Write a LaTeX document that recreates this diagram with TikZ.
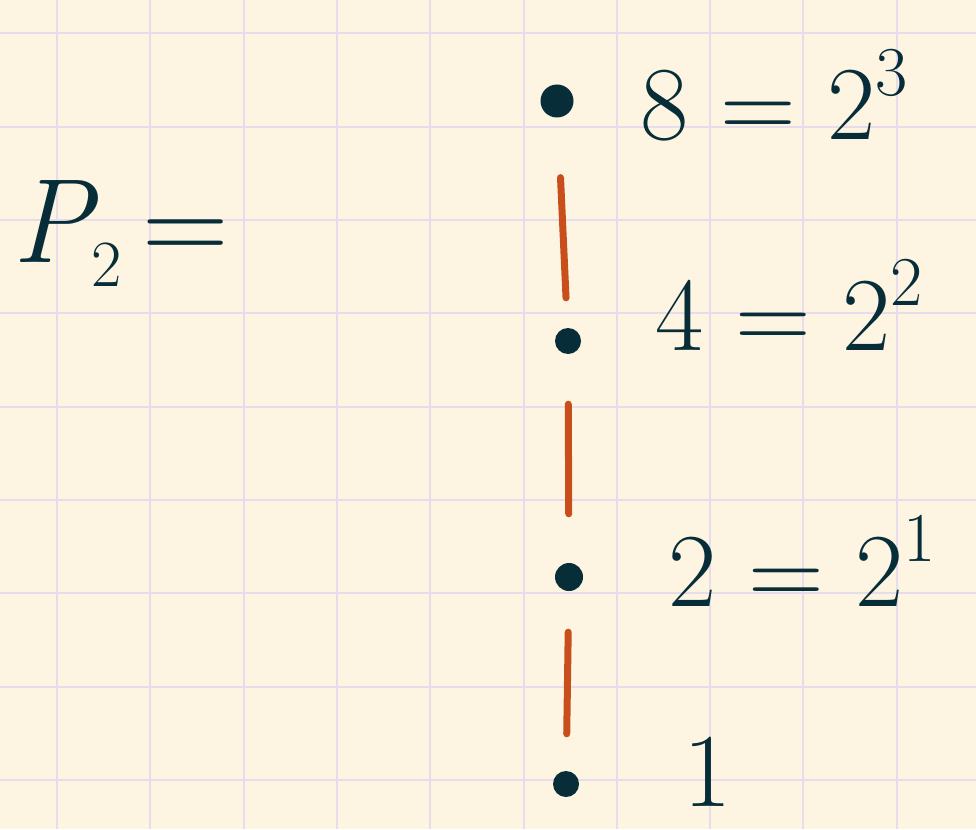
\documentclass[tikz,border=0pt]{standalone}
\usepackage{fontspec}
\usepackage{tikz}
\usetikzlibrary{positioning,calc}
\definecolor{paperColor}{HTML}{FDF5E2}
\definecolor{gridColor}{HTML}{E6DCEC}
\definecolor{inkColor}{HTML}{062D38}
\definecolor{linkColor}{HTML}{C84E1C}
\newcommand{\powtxt}[1]{\raisebox{0.42em}{\fontsize{70}{70}\selectfont #1}}
\newcommand{\subtxt}[1]{\raisebox{-0.2em}{\fontsize{66}{66}\selectfont #1}}

\begin{document}
\begin{tikzpicture}[
    x=1pt,y=-1pt,
    gridline/.style={draw=gridColor,line width=2pt},
    dotnode/.style={circle,fill=inkColor,inner sep=0pt,minimum size=#1},
    dotnode/.default=26pt,
    lbl/.style={anchor=base west,inner sep=0pt,text=inkColor,font=\fontsize{105}{110}\selectfont},
    link/.style={draw=linkColor,line width=7pt,line cap=round}
]
    % paper and grid
    \fill[paperColor] (0,0) rectangle (976,829);
    \useasboundingbox (0,0) rectangle (976,829);
    \foreach \k in {0,...,9}
        \draw[gridline] ({57+93.3*\k},0) -- ({57+93.3*\k},829);
    \foreach \k in {0,...,8}
        \draw[gridline] (0,{33.5+93.3*\k}) -- (976,{33.5+93.3*\k});

    \node[lbl,font=\fontsize{120}{120}\selectfont] (title) at (12,262) {\itshape P\upshape\subtxt{2}\,=};

    \node[dotnode=33pt] (d8) at (557,101) {};
    \node[dotnode] (d4) at (568,341) {};
    \node[dotnode=28pt] (d2) at (569,577) {};
    \node[dotnode] (d1) at (566,784) {};

    \node[lbl] (l8) at (640,140) {8 = 2\powtxt{3}};
    \node[lbl] (l4) at (655,350) {4 = 2\powtxt{2}};
    \node[lbl] (l2) at (668,606) {2 = 2\powtxt{1}};
    \node[lbl] (l1) at (683,806) {1};

    \draw[link,shorten <=60pt,shorten >=30pt] (d8) -- (d4);
    \draw[link,shorten <=50pt,shorten >=49pt] (d4) -- (d2);
    \draw[link,shorten <=41pt,shorten >=37pt] (d2) -- (d1);
\end{tikzpicture}
\end{document}
